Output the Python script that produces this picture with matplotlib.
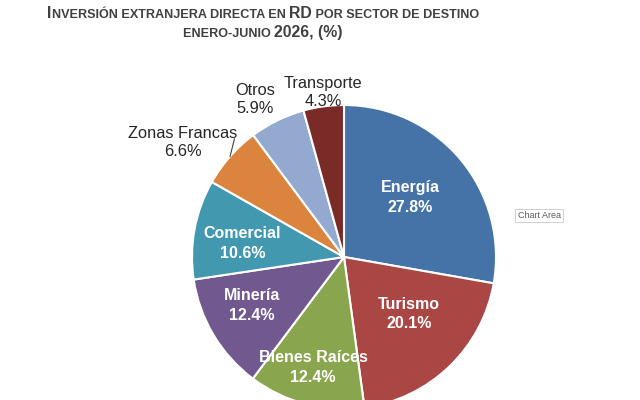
import numpy as np
import matplotlib
matplotlib.use("Agg")
import matplotlib.pyplot as plt

# ---- data ----
sectors = ["Energía", "Turismo", "Bienes Raíces", "Minería", "Comercial",
           "Zonas Francas", "Otros", "Transporte"]
shares = [27.8, 20.1, 12.4, 12.4, 10.6, 6.6, 5.9, 4.3]
colors = ["#4572A7", "#AA4643", "#89A54E", "#71588F", "#4198AF",
          "#DB843D", "#93A9CF", "#7A2B28"]
inside = [True, True, True, True, True, False, False, False]
title_line1 = [("I", "big"), ("NVERSIÓN EXTRANJERA DIRECTA EN ", "small"),
               ("RD", "big"), (" POR SECTOR DE DESTINO", "small")]
title_line2 = [("ENERO-JUNIO ", "small"), ("2026, (%)", "big")]

# label placement styling: (radius factor, angle tweak deg)
label_place = [(0.585, 2), (0.57, 5), (0.755, -1), (0.685, -3), (0.675, 3),
               (1.30, 6), (1.19, 3.5), (1.09, -0.5)]

W, H = 640, 400
fig = plt.figure(figsize=(6.4, 4.0), dpi=100)
fig.patch.set_facecolor("white")
ax = fig.add_axes([0, 0, 1, 1])

cx, cy, R = 344, 143, 152
wedges, _ = ax.pie(shares, colors=colors, startangle=90, counterclock=False,
                   center=(cx, cy), radius=R,
                   wedgeprops=dict(edgecolor="white", linewidth=1.5))
ax.set_xlim(0, W)
ax.set_ylim(0, H)
ax.set_aspect("equal", adjustable="box")
ax.axis("off")

sans = "Liberation Sans"
for w, name, val, ins, (rf, dt) in zip(wedges, sectors, shares, inside, label_place):
    mid = 0.5 * (w.theta1 + w.theta2)
    ang = np.deg2rad(mid + dt)
    x = cx + rf * R * np.cos(ang)
    y = cy + rf * R * np.sin(ang)
    txt = f"{name}\n{val:.1f}%"
    if ins:
        ax.text(x, y, txt, ha="center", va="center", color="white",
                fontsize=11.5, fontweight="bold", family=sans, linespacing=1.4)
    else:
        ax.text(x, y, txt, ha="center", va="center", color="#262626",
                fontsize=11.8, family=sans, linespacing=1.25)

# leader line for Zonas Francas
w = wedges[5]
mid = np.deg2rad(0.5 * (w.theta1 + w.theta2))
a2 = mid - np.deg2rad(5.7)
ax.plot([cx + R * np.cos(mid), cx + 1.06 * R * np.cos(a2)],
        [cy + R * np.sin(mid), cy + 1.06 * R * np.sin(a2)],
        color="#404040", lw=0.8)

# title in small caps style
tfont = "Liberation Sans"
sizes = {"big": 13.5, "small": 10.7}
renderer = fig.canvas.get_renderer()

def make_line(pieces, yb, scale):
    texts = []
    for s, kind in pieces:
        t = fig.text(0, yb / H, s, fontsize=sizes[kind] * scale, fontweight="bold",
                     family=tfont, color="#404040", ha="left", va="baseline")
        texts.append(t)
    return texts

def place_line(texts, xc):
    widths = [t.get_window_extent(renderer).width for t in texts]
    x = xc - sum(widths) / 2
    for t, wd in zip(texts, widths):
        t.set_x(x / W)
        x += wd
    return sum(widths)

# fit first title line to the reference width
probe = make_line(title_line1, H - 17.5, 1.0)
wid = sum(t.get_window_extent(renderer).width for t in probe)
for t in probe:
    t.remove()
scale = 433.0 / wid
l1 = make_line(title_line1, H - 17.5, scale)
place_line(l1, 263)
l2 = make_line(title_line2, H - 37, scale)
place_line(l2, 263)

# tooltip artifact
ax.text(539, 400 - 215.5, "Chart Area", fontsize=6.5, color="#5A5A5A", family=sans,
        ha="center", va="center",
        bbox=dict(boxstyle="square,pad=0.25", fc="white", ec="#C8C8C8", lw=0.6))

fig.savefig("out.png", dpi=100, facecolor="white")
